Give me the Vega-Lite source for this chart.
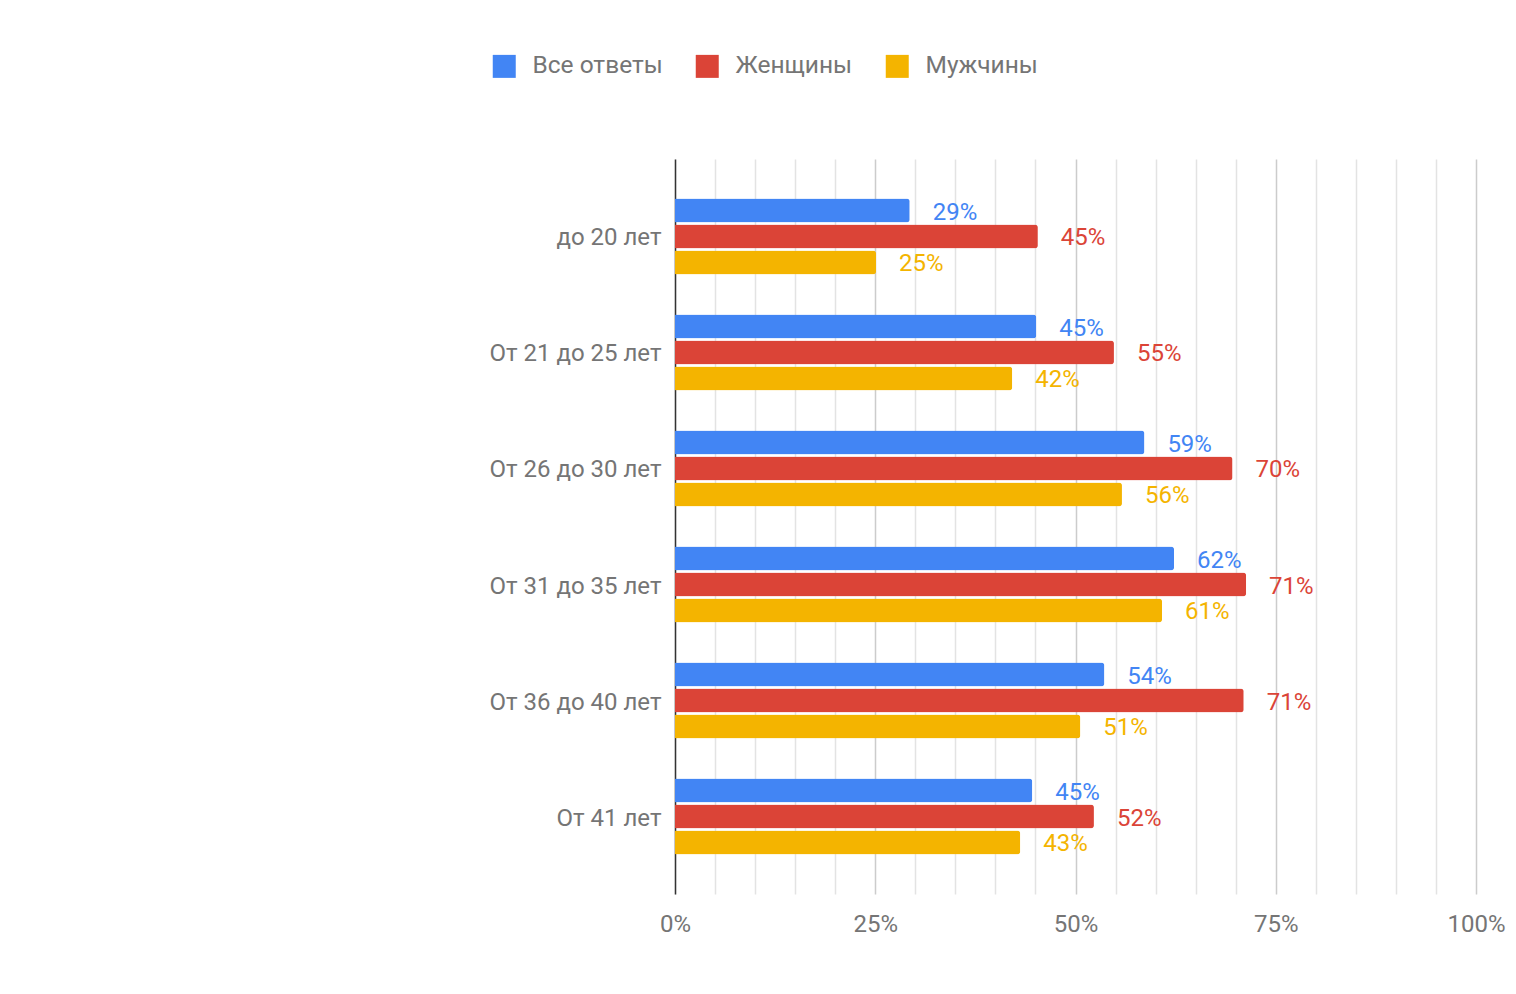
{
  "$schema": "https://vega.github.io/schema/vega-lite/v6.json",
  "autosize": {"type": "none"},
  "padding": {"left": 675, "top": 159, "right": 40, "bottom": 100},
  "width": 801,
  "height": 735,
  "background": "white",
  "config": {
    "font": "Roboto",
    "view": {"stroke": null}
  },
  "data": {
    "values": [
      {"age": "до 20 лет", "series": "Все ответы", "value": 0.293},
      {"age": "до 20 лет", "series": "Женщины", "value": 0.453},
      {"age": "до 20 лет", "series": "Мужчины", "value": 0.251},
      {"age": "От 21 до 25 лет", "series": "Все ответы", "value": 0.451},
      {"age": "От 21 до 25 лет", "series": "Женщины", "value": 0.548},
      {"age": "От 21 до 25 лет", "series": "Мужчины", "value": 0.421},
      {"age": "От 26 до 30 лет", "series": "Все ответы", "value": 0.586},
      {"age": "От 26 до 30 лет", "series": "Женщины", "value": 0.696},
      {"age": "От 26 до 30 лет", "series": "Мужчины", "value": 0.558},
      {"age": "От 31 до 35 лет", "series": "Все ответы", "value": 0.623},
      {"age": "От 31 до 35 лет", "series": "Женщины", "value": 0.713},
      {"age": "От 31 до 35 лет", "series": "Мужчины", "value": 0.608},
      {"age": "От 36 до 40 лет", "series": "Все ответы", "value": 0.536},
      {"age": "От 36 до 40 лет", "series": "Женщины", "value": 0.71},
      {"age": "От 36 до 40 лет", "series": "Мужчины", "value": 0.506},
      {"age": "От 41 лет", "series": "Все ответы", "value": 0.446},
      {"age": "От 41 лет", "series": "Женщины", "value": 0.523},
      {"age": "От 41 лет", "series": "Мужчины", "value": 0.431}
    ]
  },
  "encoding": {
    "y": {
      "field": "age",
      "type": "nominal",
      "sort": null,
      "scale": {"paddingInner": 0.328, "paddingOuter": 0.332},
      "axis": {
        "title": null,
        "domainColor": "#333333",
        "domainWidth": 1.5,
        "ticks": false,
        "labelFontSize": 24,
        "labelColor": "#757575",
        "labelPadding": 14,
        "labelOffset": 2,
        "labelFont": "Roboto"
      }
    },
    "yOffset": {
      "field": "series",
      "type": "nominal",
      "sort": ["Все ответы", "Женщины", "Мужчины"],
      "scale": {"paddingInner": 0.08, "paddingOuter": 0.04}
    },
    "x": {
      "field": "value",
      "type": "quantitative",
      "scale": {"domain": [0, 1], "nice": false},
      "axis": {
        "title": null,
        "format": ".0%",
        "values": [0, 0.05, 0.1, 0.15, 0.2, 0.25, 0.3, 0.35, 0.4, 0.45, 0.5, 0.55, 0.6, 0.65, 0.7, 0.75, 0.8, 0.85, 0.9, 0.95, 1],
        "labelExpr": "indexof([0, 0.25, 0.5, 0.75, 1], datum.value) >= 0 ? datum.label : ''",
        "labelOverlap": false,
        "labelFlush": false,
        "domain": false,
        "ticks": false,
        "grid": true,
        "gridColor": {
          "condition": {"test": "indexof([0.25, 0.5, 0.75, 1], datum.value) >= 0", "value": "#cccccc"},
          "value": "#e3e3e3"
        },
        "gridWidth": 1.5,
        "labelFontSize": 24,
        "labelColor": "#757575",
        "labelPadding": 18,
        "labelFont": "Roboto"
      }
    },
    "color": {
      "field": "series",
      "type": "nominal",
      "sort": ["Все ответы", "Женщины", "Мужчины"],
      "scale": {
        "domain": ["Все ответы", "Женщины", "Мужчины"],
        "range": ["#4285F4", "#DB4437", "#F4B400"]
      },
      "legend": {
        "title": null,
        "orient": "none",
        "direction": "horizontal",
        "legendX": -183,
        "legendY": -105,
        "symbolType": "square",
        "symbolSize": 529,
        "symbolStrokeWidth": 0,
        "symbolOpacity": 1,
        "labelFontSize": 24.5,
        "labelColor": "#757575",
        "labelFont": "Roboto",
        "labelOffset": 16,
        "columnPadding": 32
      }
    }
  },
  "layer": [
    {
      "mark": {"type": "bar", "cornerRadiusEnd": 3}
    },
    {
      "mark": {"type": "text", "align": "left", "baseline": "middle", "dx": 23, "dy": 2, "fontSize": 24, "font": "Roboto"},
      "encoding": {
        "text": {"field": "value", "type": "quantitative", "format": ".0%"}
      }
    }
  ]
}
